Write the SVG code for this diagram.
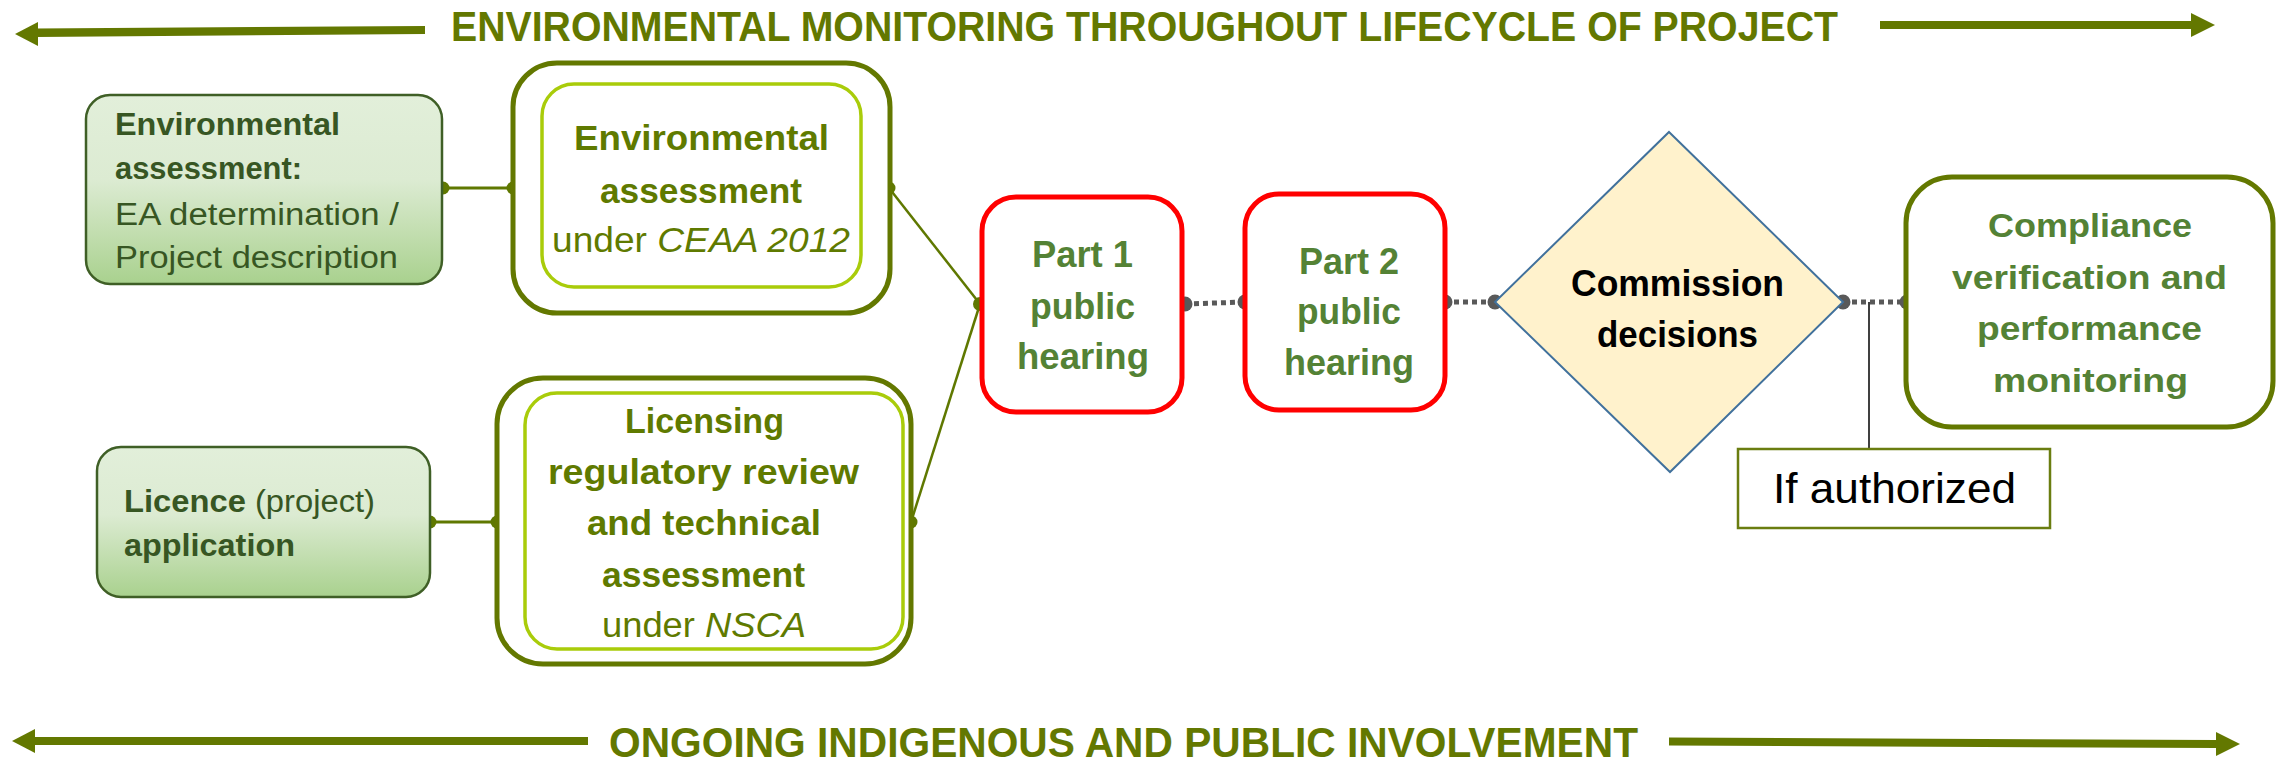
<svg xmlns="http://www.w3.org/2000/svg" width="2280" height="761" viewBox="0 0 2280 761">
  <defs>
    <linearGradient id="gInput" x1="0" y1="0" x2="0" y2="1">
      <stop offset="0" stop-color="#e2efda"/>
      <stop offset="0.45" stop-color="#dcebd2"/>
      <stop offset="1" stop-color="#a9d18e"/>
    </linearGradient>
  </defs>
  <style>
    text { font-family: "Liberation Sans", Arial, sans-serif; }
    .b { font-weight: bold; }
    .i { font-style: italic; }
    .hdr { font-size: 42px; font-weight: bold; fill: #637800; }
    .arrow { fill: #637800; }
    .input { fill: url(#gInput); stroke: #3f5f26; stroke-width: 2.5; }
    .inTxt { font-size: 31px; fill: #375623; }
    .outer { fill: #fff; stroke: #637800; stroke-width: 5; }
    .inner { fill: #fff; stroke: #a9cc0a; stroke-width: 3.5; }
    .revTxt { font-size: 35px; fill: #5f7a00; }
    .hearing { fill: #fff; stroke: #ff0000; stroke-width: 5; }
    .hTxt { font-size: 37px; font-weight: bold; fill: #548235; }
    .decision { fill: #fff2cc; stroke: #41719c; stroke-width: 2; }
    .dTxt { font-size: 36px; font-weight: bold; fill: #000; }
    .cTxt { font-size: 34px; font-weight: bold; fill: #548235; }
    .note { fill: #fff; stroke: #6a7d10; stroke-width: 2.5; }
    .nTxt { font-size: 42px; fill: #000; }
    .link { fill: none; stroke: #5f7800; }
    .dotted { fill: none; stroke: #595959; stroke-width: 5; stroke-dasharray: 5 4; }
    .pOlive { fill: #5f7800; }
    .pGrey { fill: #595959; }
  </style>

  <!-- Top banner: monitoring across the whole project -->
  <g id="banner-top">
    <polygon class="arrow" points="36,28.5 425,26 425,34 36,37"/>
    <polygon class="arrow" points="15,34 38,22 38,46"/>
    <text class="hdr" x="451" y="41" textLength="1387" lengthAdjust="spacingAndGlyphs">ENVIRONMENTAL MONITORING THROUGHOUT LIFECYCLE OF PROJECT</text>
    <rect class="arrow" x="1880" y="21" width="312" height="8"/>
    <polygon class="arrow" points="2191,13 2215,25 2191,37"/>
  </g>

  <!-- Bottom banner: ongoing involvement -->
  <g id="banner-bottom">
    <rect class="arrow" x="33" y="737" width="555" height="8"/>
    <polygon class="arrow" points="12,741 35,729 35,753"/>
    <text class="hdr" x="609" y="757" textLength="1029" lengthAdjust="spacingAndGlyphs">ONGOING INDIGENOUS AND PUBLIC INVOLVEMENT</text>
    <polygon class="arrow" points="1669,737.5 2217,740 2217,748 1669,745.5"/>
    <polygon class="arrow" points="2216,732 2240,744 2216,756"/>
  </g>

  <!-- Connectors -->
  <g id="connectors">
    <line class="link" stroke-width="3" x1="443" y1="188" x2="513" y2="188"/>
    <line class="link" stroke-width="3" x1="430" y1="522" x2="497" y2="522"/>
    <line class="link" stroke-width="2.5" x1="889" y1="188" x2="980" y2="304"/>
    <line class="link" stroke-width="2.5" x1="911" y1="522" x2="980" y2="304"/>
    <line class="dotted" x1="1185" y1="304" x2="1245" y2="302"/>
    <line class="dotted" x1="1445" y1="302" x2="1495" y2="302"/>
    <line class="dotted" x1="1843" y1="302" x2="1907" y2="302"/>
    <line stroke="#000" stroke-width="1.5" x1="1869" y1="302" x2="1869" y2="449"/>
    <circle class="pOlive" cx="443" cy="188" r="6.5"/>
    <circle class="pOlive" cx="513" cy="188" r="6.5"/>
    <circle class="pOlive" cx="889" cy="188" r="6.5"/>
    <circle class="pOlive" cx="430" cy="522" r="6.5"/>
    <circle class="pOlive" cx="497" cy="522" r="6.5"/>
    <circle class="pOlive" cx="911" cy="522" r="6.5"/>
    <circle class="pOlive" cx="980" cy="304" r="7"/>
    <circle class="pGrey" cx="1185" cy="304" r="7.5"/>
    <circle class="pGrey" cx="1245" cy="302" r="7.5"/>
    <circle class="pGrey" cx="1445" cy="302" r="7.5"/>
    <circle class="pGrey" cx="1495" cy="302" r="7.5"/>
    <circle class="pGrey" cx="1843" cy="302" r="7.5"/>
    <circle class="pGrey" cx="1907" cy="302" r="7.5"/>
  </g>

  <!-- Inputs -->
  <g id="ea-input">
    <rect class="input" x="86" y="95" width="356" height="189" rx="24"/>
    <text class="inTxt b" x="115" y="135" textLength="225" lengthAdjust="spacingAndGlyphs">Environmental</text>
    <text class="inTxt b" x="115" y="179" textLength="187" lengthAdjust="spacingAndGlyphs">assessment:</text>
    <text class="inTxt" x="115" y="225" textLength="284" lengthAdjust="spacingAndGlyphs">EA determination /</text>
    <text class="inTxt" x="115" y="268" textLength="283" lengthAdjust="spacingAndGlyphs">Project description</text>
  </g>

  <g id="licence-input">
    <rect class="input" x="97" y="447" width="333" height="150" rx="24"/>
    <text class="inTxt" x="124" y="512" textLength="251" lengthAdjust="spacingAndGlyphs"><tspan class="b">Licence</tspan> (project)</text>
    <text class="inTxt b" x="124" y="556" textLength="171" lengthAdjust="spacingAndGlyphs">application</text>
  </g>

  <!-- Reviews -->
  <g id="ea-review">
    <rect class="outer" x="513" y="63" width="377" height="250" rx="44"/>
    <rect class="inner" x="542" y="84" width="319" height="203" rx="32"/>
    <text class="revTxt b" x="574" y="150" textLength="255" lengthAdjust="spacingAndGlyphs">Environmental</text>
    <text class="revTxt b" x="600" y="203" textLength="202" lengthAdjust="spacingAndGlyphs">assessment</text>
    <text class="revTxt" x="552" y="252" textLength="298" lengthAdjust="spacingAndGlyphs">under <tspan class="i">CEAA 2012</tspan></text>
  </g>

  <g id="licence-review">
    <rect class="outer" x="497" y="378" width="414" height="286" rx="46"/>
    <rect class="inner" x="525" y="393" width="378" height="256" rx="32"/>
    <text class="revTxt b" x="625" y="433" textLength="159" lengthAdjust="spacingAndGlyphs">Licensing</text>
    <text class="revTxt b" x="548" y="484" textLength="311" lengthAdjust="spacingAndGlyphs">regulatory review</text>
    <text class="revTxt b" x="587" y="535" textLength="234" lengthAdjust="spacingAndGlyphs">and technical</text>
    <text class="revTxt b" x="602" y="587" textLength="203" lengthAdjust="spacingAndGlyphs">assessment</text>
    <text class="revTxt" x="602" y="637" textLength="204" lengthAdjust="spacingAndGlyphs">under <tspan class="i">NSCA</tspan></text>
  </g>

  <!-- Hearings -->
  <g id="hearing-1">
    <rect class="hearing" x="982" y="197" width="200" height="215" rx="34"/>
    <text class="hTxt" x="1032" y="267" textLength="101" lengthAdjust="spacingAndGlyphs">Part 1</text>
    <text class="hTxt" x="1030" y="319" textLength="105" lengthAdjust="spacingAndGlyphs">public</text>
    <text class="hTxt" x="1017" y="369" textLength="132" lengthAdjust="spacingAndGlyphs">hearing</text>
  </g>

  <g id="hearing-2">
    <rect class="hearing" x="1245" y="194" width="200" height="216" rx="34"/>
    <text class="hTxt" x="1299" y="274" textLength="100" lengthAdjust="spacingAndGlyphs">Part 2</text>
    <text class="hTxt" x="1297" y="324" textLength="104" lengthAdjust="spacingAndGlyphs">public</text>
    <text class="hTxt" x="1284" y="375" textLength="130" lengthAdjust="spacingAndGlyphs">hearing</text>
  </g>

  <!-- Decision -->
  <g id="decision">
    <polygon class="decision" points="1669,132 1843,302 1670,472 1495,302"/>
    <text class="dTxt" x="1571" y="296" textLength="213" lengthAdjust="spacingAndGlyphs">Commission</text>
    <text class="dTxt" x="1597" y="347" textLength="161" lengthAdjust="spacingAndGlyphs">decisions</text>
  </g>

  <g id="if-authorized">
    <rect class="note" x="1738" y="449" width="312" height="79"/>
    <text class="nTxt" x="1773" y="503" textLength="243" lengthAdjust="spacingAndGlyphs">If authorized</text>
  </g>

  <!-- Follow-up -->
  <g id="compliance">
    <rect class="outer" x="1906" y="177" width="367" height="250" rx="46"/>
    <text class="cTxt" x="1988" y="237" textLength="204" lengthAdjust="spacingAndGlyphs">Compliance</text>
    <text class="cTxt" x="1952" y="289" textLength="275" lengthAdjust="spacingAndGlyphs">verification and</text>
    <text class="cTxt" x="1977" y="340" textLength="225" lengthAdjust="spacingAndGlyphs">performance</text>
    <text class="cTxt" x="1993" y="392" textLength="195" lengthAdjust="spacingAndGlyphs">monitoring</text>
  </g>
</svg>
